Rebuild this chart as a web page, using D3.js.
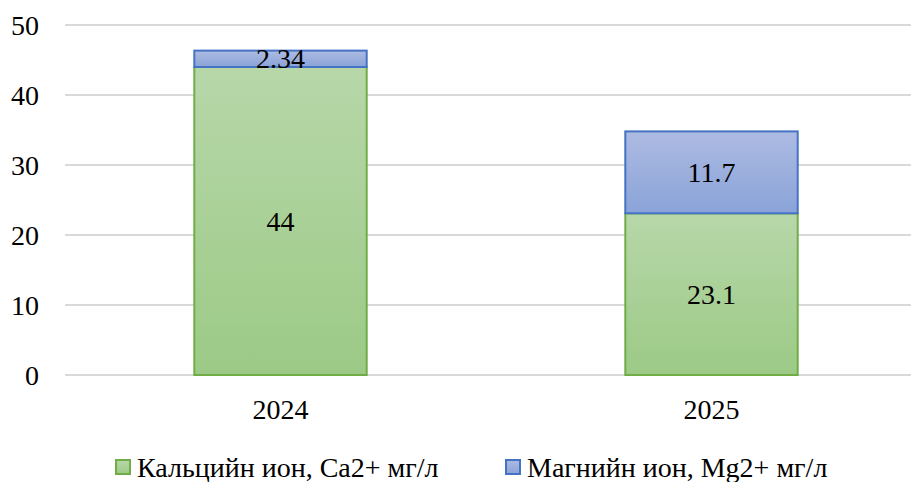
<!DOCTYPE html>
<html>
<head>
<meta charset="utf-8">
<script src="https://cdn.jsdelivr.net/npm/d3@7"></script>
<style>
  body { margin: 0; background: #fff; }
  svg text { font-family: "Times New Roman", Tinos, "Liberation Serif", serif; }
</style>
</head>
<body>
<div id="chart"></div>
<script>
// data
var years = ["2024", "2025"];
var calcium = [44, 23.1];
var magnesium = [2.34, 11.7];
var seriesNames = ["Кальцийн ион, Ca2+ мг/л", "Магнийн ион, Mg2+ мг/л"];
var yTicks = [0, 10, 20, 30, 40, 50];

var width = 911, height = 482;
var margin = { top: 25, right: -16, bottom: 107, left: 65 };
var FONT = "Times New Roman";

var svg = d3.select("#chart")
  .append("svg")
  .attr("width", width)
  .attr("height", height)
  .attr("font-family", FONT);

var defs = svg.append("defs");
function grad(id, top, bottom) {
  var g = defs.append("linearGradient")
    .attr("id", id)
    .attr("x1", 0).attr("y1", 0)
    .attr("x2", 0).attr("y2", 1);
  g.append("stop").attr("offset", "0%").attr("stop-color", top);
  g.append("stop").attr("offset", "100%").attr("stop-color", bottom);
}
grad("gGreen", "#b7d7a9", "#9cca86");
grad("gBlue", "#adbbe2", "#8aa3d8");

var x = d3.scaleBand()
  .domain(years)
  .range([margin.left, width - margin.right])
  .paddingInner(0.6)
  .paddingOuter(0.3);

var y = d3.scaleLinear()
  .domain([0, 50])
  .range([height - margin.bottom, margin.top]);

// gridlines
svg.selectAll("line.grid")
  .data(yTicks)
  .enter()
  .append("line")
  .attr("class", "grid")
  .attr("x1", margin.left)
  .attr("x2", width)
  .attr("y1", d => y(d))
  .attr("y2", d => y(d))
  .style("stroke", "#d9d9d9")
  .style("stroke-width", 2);

// stacked bars
var rows = years.map((yr, i) => ({ year: yr, ca: calcium[i], mg: magnesium[i] }));
var stack = d3.stack().keys(["ca", "mg"])(rows);
var fills = ["url(#gGreen)", "url(#gBlue)"];
var strokes = ["#70ad47", "#4472c4"];

stack.forEach(function(layer, li) {
  svg.selectAll("rect.s" + li)
    .data(layer)
    .enter()
    .append("rect")
    .attr("class", "s" + li)
    .attr("x", d => x(d.data.year))
    .attr("width", x.bandwidth())
    .attr("y", d => y(d[1]))
    .attr("height", d => y(d[0]) - y(d[1]))
    .style("fill", fills[li])
    .style("stroke", strokes[li])
    .style("stroke-width", 2);
});

// y axis labels
svg.selectAll("text.ytick")
  .data(yTicks)
  .enter()
  .append("text")
  .attr("class", "ytick")
  .attr("x", 39)
  .attr("y", d => y(d) + 9.5)
  .attr("text-anchor", "end")
  .attr("font-family", FONT)
  .attr("font-size", 28)
  .text(d => d);

// data labels
stack.forEach(function(layer, li) {
  svg.selectAll("text.lbl" + li)
    .data(layer)
    .enter()
    .append("text")
    .attr("class", "lbl" + li)
    .attr("x", d => x(d.data.year) + x.bandwidth() / 2)
    .attr("y", d => (y(d[0]) + y(d[1])) / 2 + 9.5)
    .attr("text-anchor", "middle")
    .attr("font-family", FONT)
    .attr("font-size", 28)
    .text(d => +(d[1] - d[0]).toFixed(2));
});

// x axis labels
svg.selectAll("text.xtick")
  .data(years)
  .enter()
  .append("text")
  .attr("class", "xtick")
  .attr("x", d => x(d) + x.bandwidth() / 2)
  .attr("y", 419)
  .attr("text-anchor", "middle")
  .attr("font-family", FONT)
  .attr("font-size", 28)
  .text(d => d);

// legend
var legendX = [115, 505];
svg.selectAll("rect.key")
  .data(seriesNames)
  .enter()
  .append("rect")
  .attr("class", "key")
  .attr("x", (d, i) => legendX[i] + 1)
  .attr("y", 460)
  .attr("width", 14).attr("height", 14)
  .style("fill", (d, i) => fills[i])
  .style("stroke", (d, i) => strokes[i])
  .style("stroke-width", 2);

svg.selectAll("text.key")
  .data(seriesNames)
  .enter()
  .append("text")
  .attr("class", "key")
  .attr("x", (d, i) => legendX[i] + 22)
  .attr("y", 477)
  .attr("font-family", FONT)
  .attr("font-size", 28)
  .text(d => d);
</script>
</body>
</html>
